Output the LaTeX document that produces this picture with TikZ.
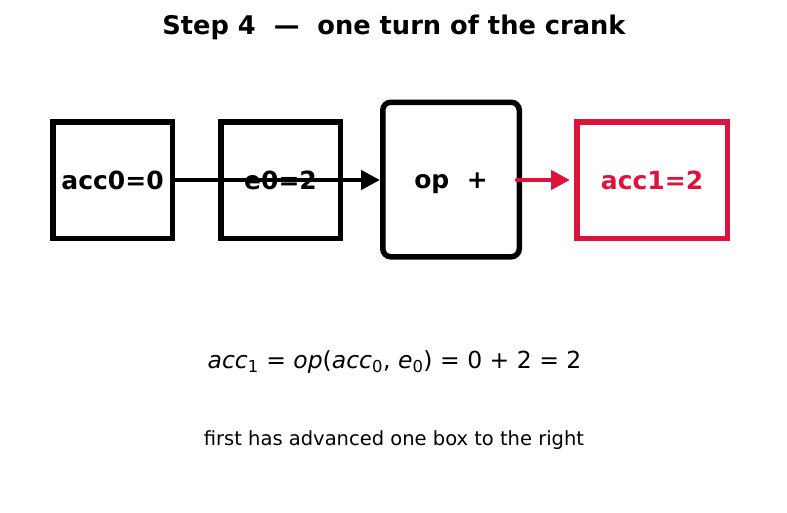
\documentclass[tikz,border=0pt]{standalone}
\usepackage{fontspec}
\setmainfont{DejaVu Sans}
\usetikzlibrary{arrows.meta}
\definecolor{crankred}{RGB}{220,20,60}
\newcommand{\sub}[2]{\textit{#1}\textsubscript{#2}}

\begin{document}
\begin{tikzpicture}[x=1pt, y=-1pt,
  box/.style={draw, line width=5.5pt, inner sep=0pt, text height=18pt, text depth=0pt,
    font=\fontsize{25}{30}\selectfont\bfseries},
  tip/.style={-{Triangle[length=19pt, width=19pt]}, line width=4.5pt}]

  \useasboundingbox (0,0) rectangle (787,512);

  % title
  \node[font=\fontsize{25.7}{31}\selectfont\bfseries] (title) at (394,27) {Step 4\ \ —\ \ one turn of the crank};

  % boxes
  \node[box, minimum width=119.5pt, minimum height=116.5pt] (acc0) at (112.5,180) {acc0=0};
  \node[box, minimum width=119.5pt, minimum height=116.5pt] (e0) at (280.5,180) {e0=2};
  \node[box, rounded corners=8pt, minimum width=136.5pt, minimum height=154.5pt] (op) at (451,179.5) {op\ \ +};
  \node[box, crankred, minimum width=150.5pt, minimum height=116.5pt] (acc1) at (652,180) {acc1=2};

  % arrows
  \draw[tip] (acc0.east) -- (acc0.east -| op.west);
  \draw[tip, crankred, line cap=round] ([xshift=-5pt]op.east |- acc1.west) -- ([xshift=-4pt]acc1.west);

  % formula and note
  \node[font=\fontsize{23.5}{28}\selectfont] (formula) at (394.5,362)
    {\sub{acc}{1} = \textit{op}(\sub{acc}{0}, \sub{e}{0}) = 0 + 2 = 2};
  \node[font=\fontsize{19.5}{23}\selectfont] (note) at (394,440) {first has advanced one box to the right};
\end{tikzpicture}
\end{document}
